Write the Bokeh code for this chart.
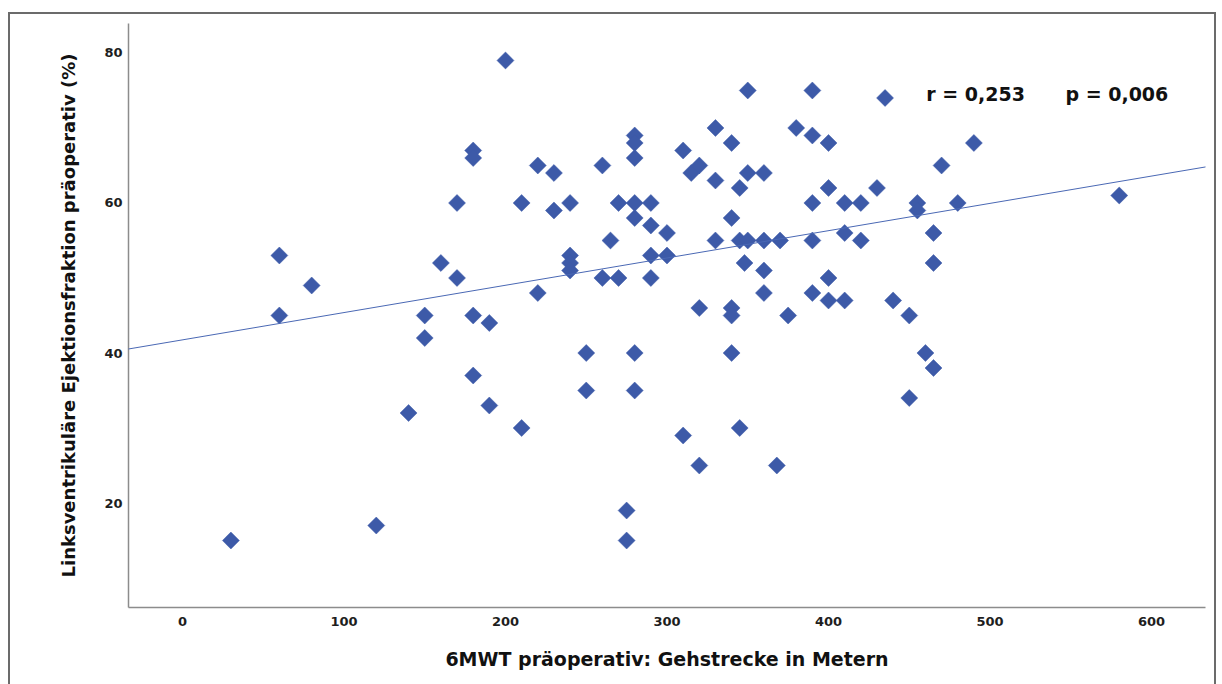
import numpy as np
from bokeh.plotting import figure
from bokeh.models import Range1d, FixedTicker, Slope, Label, ColumnDataSource
from bokeh.embed import file_html
from bokeh.resources import INLINE

# Six-minute walk distance (m) and preoperative LV ejection fraction (%) per patient
walk_m = [30, 60, 60, 80, 120, 140, 150, 150, 160, 170, 170, 180, 180, 180, 180, 190, 190, 200, 210, 210,
          220, 220, 230, 230, 240, 240, 240, 240, 250, 250, 260, 260, 265, 270, 270, 275, 275,
          280, 280, 280, 280, 280, 280, 280,
          290, 290, 290, 290, 300, 300, 310, 310, 315, 320, 320, 320, 330, 330, 330,
          340, 340, 340, 340, 340, 345, 345, 345, 348,
          350, 350, 350, 360, 360, 360, 360, 368, 370, 375, 380, 390, 390, 390, 390, 390,
          400, 400, 400, 400, 410, 410, 410, 420, 420,
          430, 435, 440, 450, 450, 455, 455, 460, 465, 465, 465, 470, 480, 490, 580]
lvef_pct = [15, 53, 45, 49, 17, 32, 45, 42, 52, 60, 50, 67, 66, 45, 37, 44, 33, 79, 60, 30,
            65, 48, 64, 59, 60, 53, 52, 51, 40, 35, 65, 50, 55, 60, 50, 19, 15,
            69, 68, 66, 60, 58, 40, 35,
            60, 57, 53, 50, 56, 53, 67, 29, 64, 65, 46, 25, 70, 63, 55,
            68, 58, 46, 45, 40, 62, 55, 30, 52,
            75, 64, 55, 64, 55, 51, 48, 25, 55, 45, 70, 75, 69, 60, 55, 48,
            68, 62, 50, 47, 60, 56, 47, 60, 55,
            62, 74, 47, 45, 34, 60, 59, 40, 56, 52, 38, 65, 60, 68, 61]

# Linear fit line
fit_intercept = 41.75
fit_slope = 0.0364

r_text = "r = 0,253"
p_text = "p = 0,006"

x_ticks = [0, 100, 200, 300, 400, 500, 600]
y_ticks = [20, 40, 60, 80]

x_title = "6MWT präoperativ: Gehstrecke in Metern"
y_title = "Linksventrikuläre Ejektionsfraktion präoperativ (%)"

FONT = "DejaVu Sans"
BLUE = "#3d5aa8"

p = figure(width=1208, height=680,
           x_range=Range1d(-33.4, 633.4), y_range=Range1d(6.07, 83.93),
           output_backend="svg", toolbar_location=None,
           min_border_left=118, min_border_right=13, min_border_top=9, min_border_bottom=87,
           background_fill_color="white", border_fill_color="white",
           styles={"border": "2px solid #6b6b6b", "margin-left": "8px", "margin-top": "12px"})

p.outline_line_color = None
p.xgrid.visible = False
p.ygrid.visible = False

for ax in (p.xaxis[0], p.yaxis[0]):
    ax.axis_line_color = "#8c8c8c"
    ax.axis_line_width = 1.5
    ax.major_tick_line_color = None
    ax.minor_tick_line_color = None
    ax.major_tick_out = 0
    ax.major_tick_in = 0
    ax.major_label_text_font = FONT
    ax.major_label_text_font_style = "bold"
    ax.major_label_text_font_size = "13px"
    ax.major_label_text_color = "#1e1e1e"
    ax.axis_label_text_font = FONT
    ax.axis_label_text_font_style = "bold"
    ax.axis_label_text_color = "#111111"

p.xaxis.ticker = FixedTicker(ticks=x_ticks)
p.yaxis.ticker = FixedTicker(ticks=y_ticks)
p.xaxis.major_label_standoff = 9
p.yaxis.major_label_standoff = 6
p.xaxis.axis_label = x_title
p.yaxis.axis_label = y_title
p.xaxis.axis_label_text_font_size = "19px"
p.yaxis.axis_label_text_font_size = "18px"
p.xaxis.axis_label_standoff = 19
p.yaxis.axis_label_standoff = 22

src = ColumnDataSource(dict(x=walk_m, y=lvef_pct))
p.scatter("x", "y", source=src, marker="square", angle=np.pi / 4, size=12,
          fill_color=BLUE, line_color=BLUE, line_width=0.5)

p.add_layout(Slope(gradient=fit_slope, y_intercept=fit_intercept,
                   line_color="#4a68b4", line_width=1))

for xpos, txt in ((460.5, r_text), (546.7, p_text)):
    p.add_layout(Label(x=xpos, y=74.47, text=txt, text_font=FONT, text_font_style="bold",
                       text_font_size="19px", text_color="#111111", text_baseline="alphabetic"))

open("out.html", "w").write(file_html(p, INLINE))
